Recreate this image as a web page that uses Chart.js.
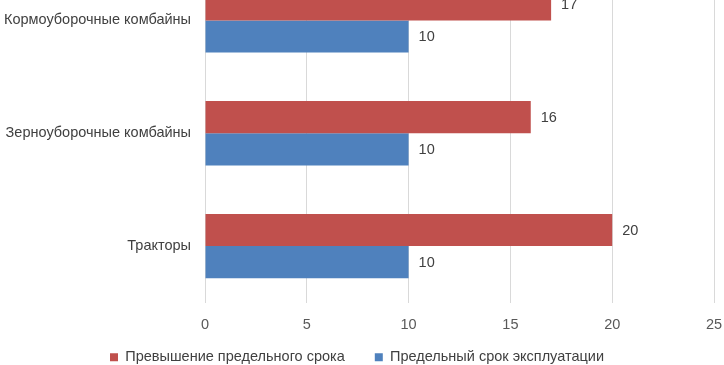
<!DOCTYPE html>
<html>
<head>
<meta charset="utf-8">
<script src="https://cdn.jsdelivr.net/npm/chart.js@4"></script>
<style>
html,body{margin:0;padding:0;background:#fff;overflow:hidden;width:724px;height:365px;}
#c{position:absolute;left:0;top:-36px;}
</style>
</head>
<body>
<canvas id="c" width="724" height="401"></canvas>
<script>
const categories = ["Кормоуборочные комбайны", "Зерноуборочные комбайны", "Тракторы"];
const seriesNames = ["Превышение предельного срока", "Предельный срок эксплуатации"];
const excessValues = [17, 16, 20];
const limitValues = [10, 10, 10];
const xTicks = [0, 5, 10, 15, 20, 25];

const FONT = "'Liberation Sans', Arial, sans-serif";

const valueLabels = {
  id: 'valueLabels',
  afterDatasetsDraw(chart) {
    const ctx = chart.ctx;
    ctx.save();
    ctx.font = "14.5px " + FONT;
    ctx.fillStyle = "#404040";
    ctx.textAlign = "left";
    ctx.textBaseline = "middle";
    chart.data.datasets.forEach((ds, di) => {
      chart.getDatasetMeta(di).data.forEach((el, i) => {
        ctx.fillText(String(ds.data[i]), el.x + 10, el.y + 1);
      });
    });
    ctx.restore();
  }
};

const legendShift = {
  id: 'legendShift',
  afterLayout(chart) {
    const l = chart.legend;
    if (l) { l.top -= 12.5; }
  }
};

function noPad(scale) {
  scale.paddingTop = 0; scale.paddingBottom = 0;
  scale.paddingLeft = 0; scale.paddingRight = 0;
}

new Chart(document.getElementById('c'), {
  type: 'bar',
  data: {
    labels: categories,
    datasets: [
      { label: seriesNames[0], data: excessValues, backgroundColor: '#C0504D' },
      { label: seriesNames[1], data: limitValues, backgroundColor: '#4F81BD' }
    ]
  },
  options: {
    indexAxis: 'y',
    responsive: false,
    devicePixelRatio: 1,
    animation: false,
    layout: { padding: { top: 0, right: 10, left: 0, bottom: 0 } },
    datasets: { bar: { categoryPercentage: 0.57, barPercentage: 1.0 } },
    scales: {
      x: {
        min: 0, max: 25,
        afterBuildTicks(scale) { scale.ticks = xTicks.map(v => ({ value: v })); },
        afterFit(scale) { scale.height = 30; noPad(scale); },
        grid: { color: '#d9d9d9', drawTicks: false },
        border: { display: false },
        ticks: { padding: 14, color: '#595959', font: { family: FONT, size: 14.5 } }
      },
      y: {
        afterFit(scale) { scale.width = 205; noPad(scale); },
        grid: { display: false, drawTicks: false },
        border: { display: true, color: '#d9d9d9' },
        ticks: { padding: 14, color: '#404040', font: { family: FONT, size: 14.5 } }
      }
    },
    plugins: {
      legend: {
        position: 'bottom',
        maxHeight: 32.5,
        labels: {
          boxWidth: 8, boxHeight: 8, padding: 30,
          color: '#404040',
          font: { family: FONT, size: 14.5 }
        }
      },
      tooltip: { enabled: false }
    }
  },
  plugins: [valueLabels, legendShift]
});
</script>
</body>
</html>
